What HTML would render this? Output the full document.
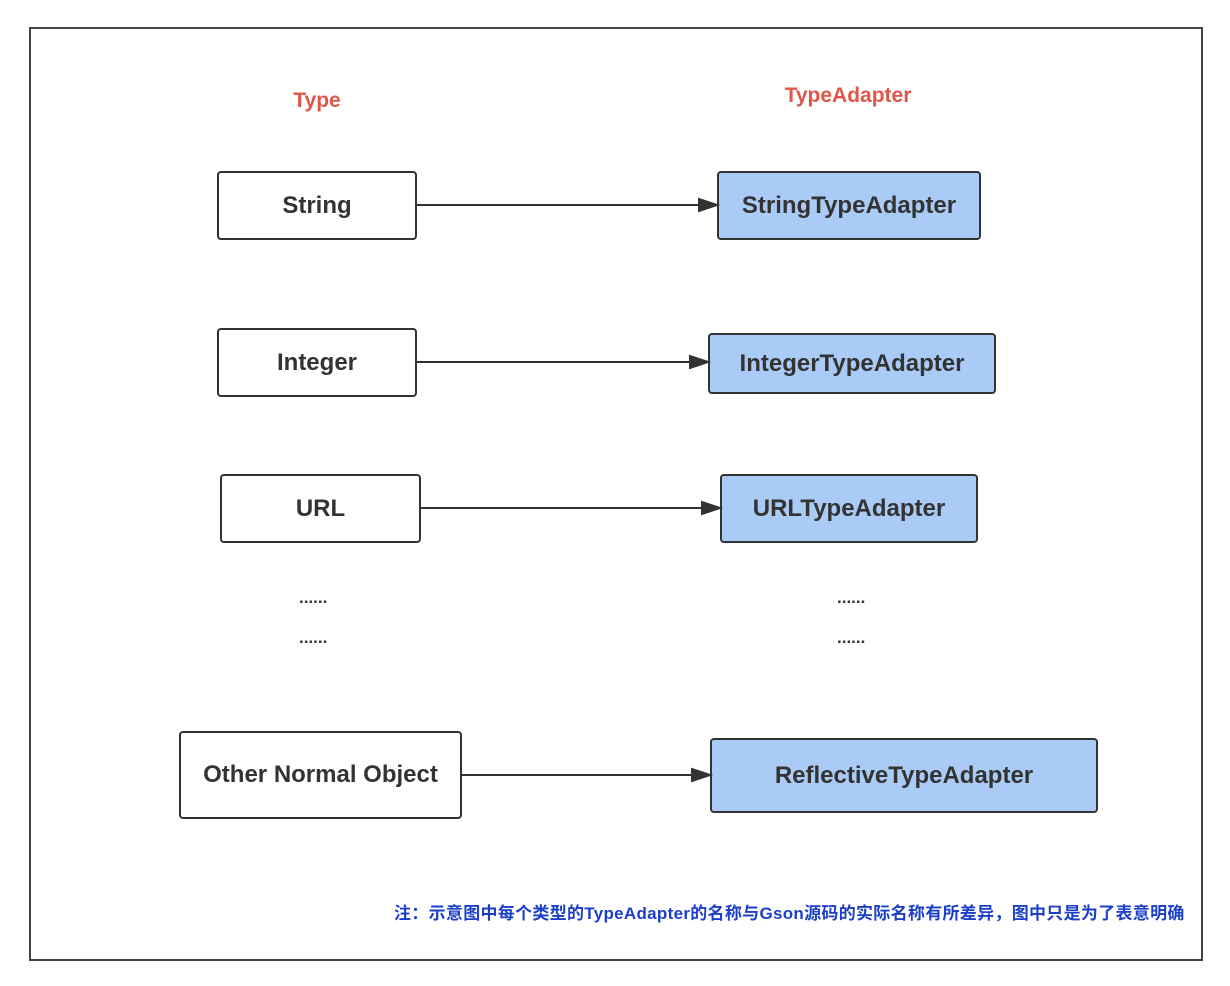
<!DOCTYPE html>
<html><head><meta charset="utf-8"><style>
body{margin:0;width:1230px;height:986px;background:#fff;position:relative;overflow:hidden;font-family:"Liberation Sans","Noto Sans CJK SC",sans-serif}
.f{position:absolute;left:29px;top:27px;width:1170px;height:930px;border:2px solid #444}
.b{position:absolute;box-sizing:border-box;border:2px solid #333;border-radius:4px;background:#fff;display:flex;align-items:center;justify-content:center;font-weight:bold;font-size:24px;color:#333}
.a{background:#a9cbf5}
.h{position:absolute;color:#e0574a;font-weight:bold;font-size:21px;transform:translateX(-50%)}
.d{position:absolute;font-size:17px;color:#333;font-weight:bold}
.n{position:absolute;left:394px;top:899px;font-size:17px;font-weight:bold;color:#1b3fc8;white-space:nowrap;letter-spacing:0.3px}
</style></head><body>
<div class="f"></div>
<div class="h" style="left:317px;top:89px">Type</div>
<div class="h" style="left:848px;top:84px">TypeAdapter</div>
<div class="b" style="left:217px;top:171px;width:200px;height:69px">String</div>
<div class="b a" style="left:717px;top:171px;width:264px;height:69px">StringTypeAdapter</div>
<div class="b" style="left:217px;top:328px;width:200px;height:69px">Integer</div>
<div class="b a" style="left:708px;top:333px;width:288px;height:61px">IntegerTypeAdapter</div>
<div class="b" style="left:220px;top:474px;width:201px;height:69px">URL</div>
<div class="b a" style="left:720px;top:474px;width:258px;height:69px">URLTypeAdapter</div>
<div class="b" style="left:179px;top:731px;width:283px;height:88px">Other Normal Object</div>
<div class="b a" style="left:710px;top:738px;width:388px;height:75px">ReflectiveTypeAdapter</div>
<div class="d" style="left:299px;top:588px">......</div>
<div class="d" style="left:299px;top:628px">......</div>
<div class="d" style="left:837px;top:588px">......</div>
<div class="d" style="left:837px;top:628px">......</div>
<svg width="1230" height="986" style="position:absolute;left:0;top:0">
<g stroke="#333" stroke-width="2" fill="#333">
<line x1="417" y1="205" x2="700" y2="205"/><polygon points="717,205 699,199 699,211"/>
<line x1="417" y1="362" x2="691" y2="362"/><polygon points="708,362 690,356 690,368"/>
<line x1="421" y1="508" x2="703" y2="508"/><polygon points="720,508 702,502 702,514"/>
<line x1="462" y1="775" x2="693" y2="775"/><polygon points="710,775 692,769 692,781"/>
</g></svg>
<div class="n">注：示意图中每个类型的TypeAdapter的名称与Gson源码的实际名称有所差异，图中只是为了表意明确</div>
</body></html>
